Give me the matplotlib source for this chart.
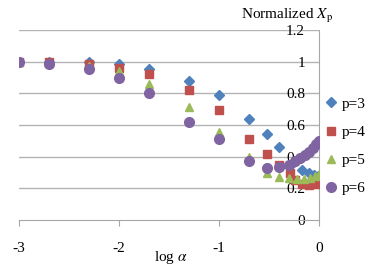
import matplotlib.pyplot as plt

plt.rcParams['font.family'] = ['Liberation Serif', 'DejaVu Serif']
plt.rcParams['mathtext.fontset'] = 'stix'

# log(alpha) positions and normalized X_p for each p
x_p3 = [-3, -2.7, -2.3, -2, -1.7, -1.3, -1, -0.7, -0.52, -0.4, -0.25, -0.17, -0.1, -0.05, -0.01]
y_p3 = [1.0, 1.0, 0.995, 0.985, 0.955, 0.88, 0.79, 0.64, 0.545, 0.46, 0.368, 0.318, 0.298, 0.285, 0.275]

x_p4 = [-3, -2.7, -2.3, -2, -1.7, -1.3, -1, -0.7, -0.52, -0.4, -0.29, -0.24, -0.17, -0.1, -0.02]
y_p4 = [1.0, 1.0, 0.985, 0.96, 0.92, 0.823, 0.693, 0.51, 0.417, 0.35, 0.30, 0.25, 0.23, 0.22, 0.227]

x_p5 = [-3, -2.7, -2.3, -2, -1.7, -1.3, -1, -0.7, -0.52, -0.4, -0.3, -0.22, -0.155, -0.09, -0.04, 0]
y_p5 = [0.995, 0.99, 0.975, 0.94, 0.857, 0.712, 0.558, 0.40, 0.295, 0.27, 0.265, 0.262, 0.26, 0.265, 0.275, 0.29]

x_p6 = [-3, -2.7, -2.3, -2, -1.7, -1.3, -1, -0.7, -0.52, -0.4, -0.3, -0.24, -0.19, -0.14, -0.1, -0.06, -0.03, 0]
y_p6 = [1.0, 0.985, 0.955, 0.90, 0.80, 0.62, 0.514, 0.375, 0.327, 0.337, 0.35, 0.37, 0.39, 0.41, 0.43, 0.455, 0.48, 0.5]

fig = plt.figure(figsize=(3.70, 2.73), dpi=100)
ax = fig.add_axes([19 / 370, 1 - 220 / 273, 300 / 370, 190 / 273])

ax.plot(x_p3, y_p3, 'D', color='#4F81BD', ms=4.8, mec='#4F81BD', label='p=3', zorder=3)
ax.plot(x_p4, y_p4, 's', color='#C0504D', ms=5.2, mec='#C0504D', label='p=4', zorder=3)
ax.plot(x_p5, y_p5, '^', color='#9BBB59', ms=6.3, mec='#9BBB59', label='p=5', zorder=3)
ax.plot(x_p6, y_p6, 'o', color='#8064A2', ms=7, mec='#8064A2', label='p=6', zorder=3)

ax.set_xlim(-3, 0)
ax.set_ylim(0, 1.2)
ax.set_xticks([-3, -2, -1, 0])
ax.set_xticklabels(['-3', '-2', '-1', '0'])
ax.set_yticks([0, 0.2, 0.4, 0.6, 0.8, 1, 1.2])
ax.set_yticklabels(['0', '0.2', '0.4', '0.6', '0.8', '1', '1.2'])

for y in [0.2, 0.4, 0.6, 0.8, 1.0, 1.2]:
    ax.axhline(y, color='#B3B3B3', lw=1, zorder=1)

for s in ['top', 'right']:
    ax.spines[s].set_visible(False)
ax.spines['left'].set_position(('data', 0))
ax.spines['left'].set_color('#A6A6A6')
ax.spines['bottom'].set_color('#A6A6A6')
ax.spines['left'].set_zorder(2)

ax.tick_params(axis='x', direction='out', length=4.5, color='#A6A6A6', pad=11, labelsize=11)
ax.tick_params(axis='y', length=0, pad=10, labelsize=11)

fig.text(171 / 370, 1 - 258 / 273, r'log $\alpha$', ha='center', va='center', fontsize=11)
fig.text(287 / 370, 1 - 16 / 273, r'Normalized $X_{\rm p}$', ha='center', va='center', fontsize=11)

ax.legend(loc='upper left', bbox_to_anchor=(325 / 370, 1 - 97 / 273), bbox_transform=fig.transFigure,
          frameon=False, fontsize=11, handlelength=0.8, handletextpad=0.3, labelspacing=0.95,
          borderaxespad=0, borderpad=0)

fig.savefig('out.png', dpi=100)
